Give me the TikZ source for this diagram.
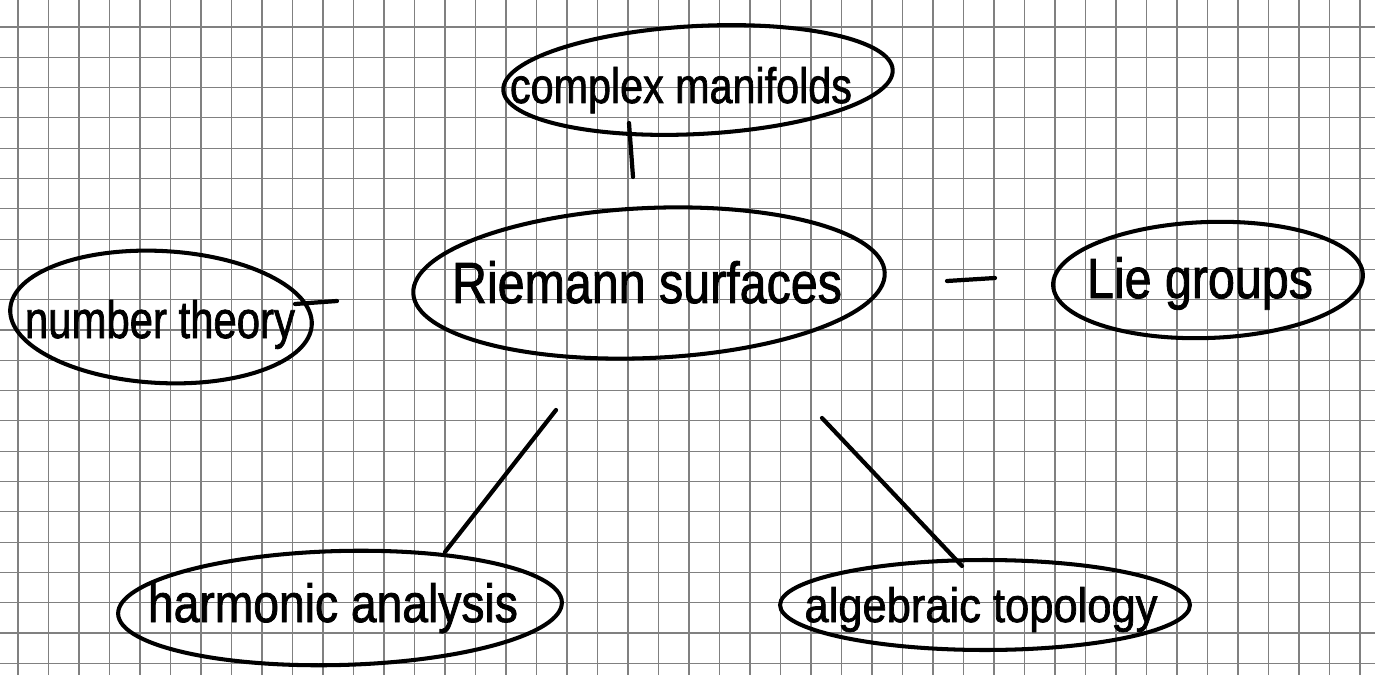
\documentclass[tikz,border=0pt]{standalone}
\usepackage{fontspec}
\setmainfont[FakeBold=1.6]{Liberation Sans}
\usetikzlibrary{shapes.geometric}
\newlength\pxl
\setlength\pxl{0.02cm}
\newcommand\hw[3]{\resizebox{#1\pxl}{#2\pxl}{#3}}
\begin{document}
\begin{tikzpicture}[x=0.02cm,y=-0.02cm,
  ring/.style={draw=black, ellipse, line width=2.3pt, inner sep=0pt},
  word/.style={anchor=base, inner sep=0pt, text=black},
  link/.style={draw=black, line width=2.4pt, line cap=round},
  gridline/.style={draw=black!50, line width=0.6pt}]
\fill[white] (0,0) rectangle (1375,675);
\useasboundingbox (0,0) rectangle (1375,675);
\foreach \i in {0,...,44} \draw[gridline] ({18+30.5*\i},0) -- ({18+30.5*\i},675);
\foreach \j in {0,...,21} \draw[gridline] (0,{27+30.3*\j}) -- (1375,{27+30.3*\j});

% concept rings
\node[ring, minimum width=7.8cm, minimum height=2.16cm, rotate=3] (cm) at (698,80) {};
\node[ring, minimum width=9.44cm, minimum height=3.0cm, rotate=2.5] (rs) at (649,283) {};
\node[ring, minimum width=6.04cm, minimum height=2.64cm, rotate=-3] (nt) at (161,317) {};
\node[ring, minimum width=6.2cm, minimum height=2.32cm, rotate=2] (lg) at (1208,280) {};
\node[ring, minimum width=8.88cm, minimum height=2.28cm, rotate=1.5] (ha) at (340,608) {};
\node[ring, minimum width=8.2cm, minimum height=1.8cm] (at) at (985,605) {};

% labels
\node[word] (cm-t) at (681,103) {\hw{342}{36}{complex manifolds}};
\node[word] (rs-t) at (647,303) {\hw{390}{42}{Riemann surfaces}};
\node[word] (nt-t) at (160,338) {\hw{270}{38}{number theory}};
\node[word] (lg-t) at (1200,298) {\hw{226}{41}{Lie groups}};
\node[word] (ha-t) at (333,622) {\hw{370}{39}{harmonic analysis}};
\node[word] (at-t) at (981,622) {\hw{353}{35}{algebraic topology}};

% connector ends
\coordinate (cm-s) at (629,123);
\coordinate (rs-n) at (633,177);
\coordinate (nt-e) at (295,304);
\coordinate (rs-w) at (337,301);
\coordinate (rs-e) at (947,281);
\coordinate (lg-w) at (995,278);
\coordinate (rs-sw) at (556,410);
\coordinate (ha-n) at (445,552);
\coordinate (rs-se) at (822,418);
\coordinate (at-n) at (962,566);

\draw[link] (cm-s) -- (rs-n);
\draw[link] (nt-e) -- (rs-w);
\draw[link] (rs-e) -- (lg-w);
\draw[link] (rs-sw) -- (ha-n);
\draw[link] (rs-se) -- (at-n);
\end{tikzpicture}
\end{document}
